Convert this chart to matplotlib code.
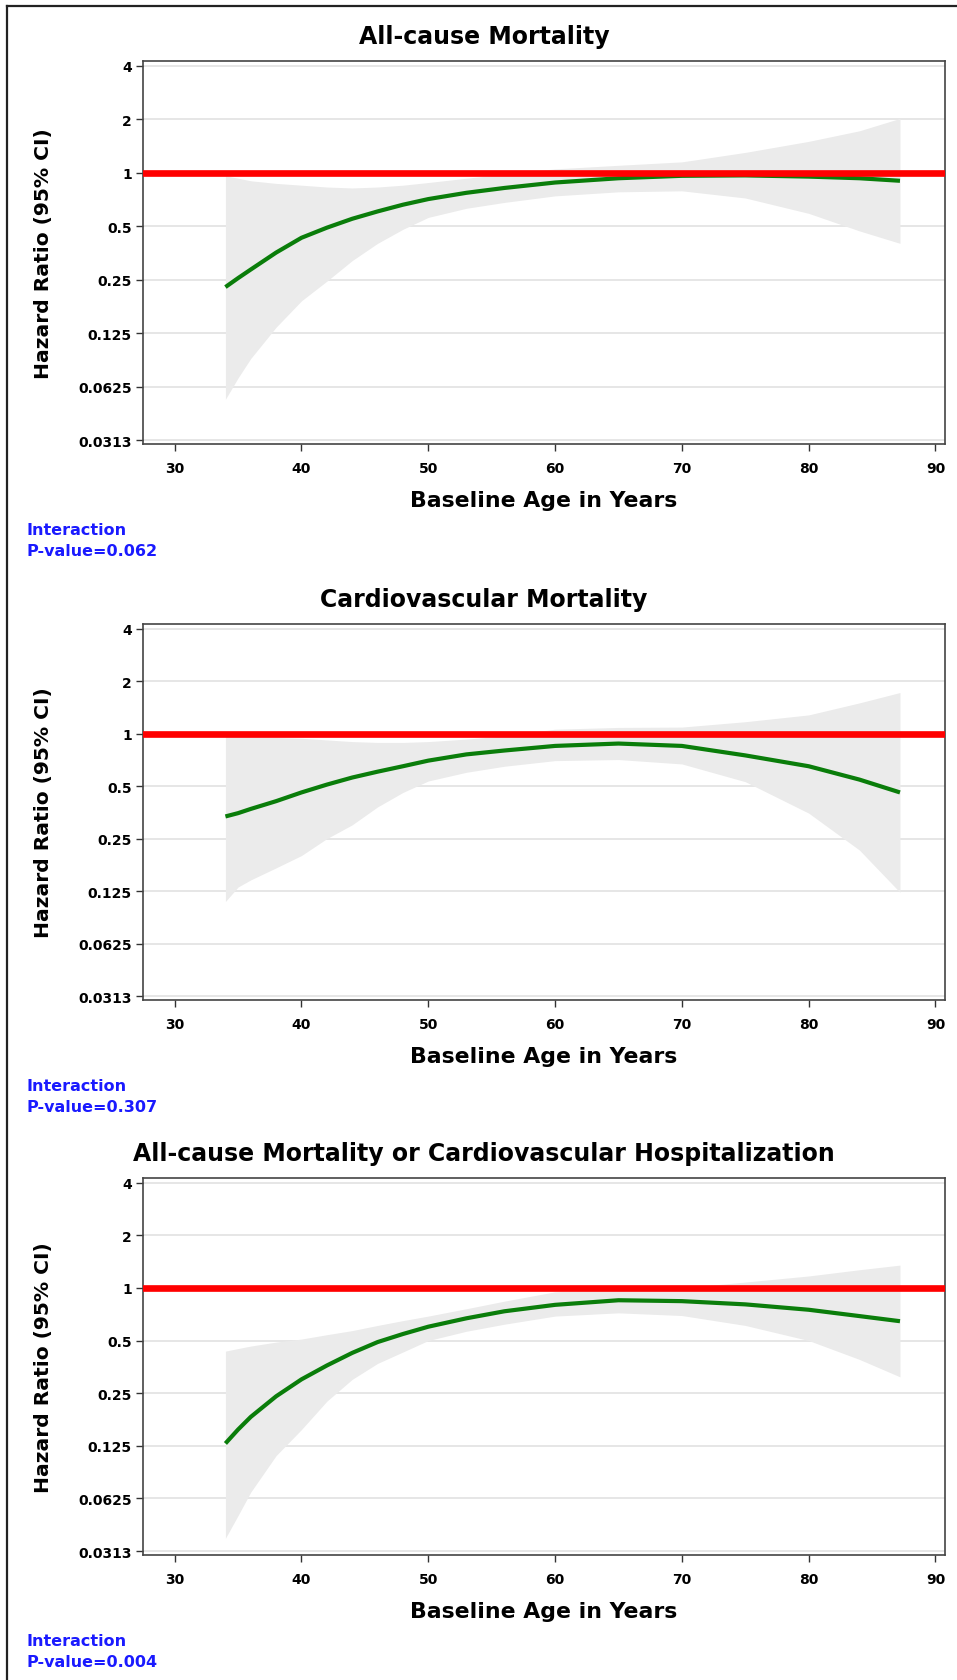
import matplotlib
matplotlib.use("Agg")
import matplotlib.pyplot as plt
from matplotlib.lines import Line2D

plt.rcParams.update({
    "font.family": "DejaVu Sans",
    "font.weight": "bold",
    "axes.labelweight": "bold",
})

# data
ages = [34, 35, 36, 38, 40, 42, 44, 46, 48, 50, 53, 56, 60, 65, 70, 75, 80, 84, 87.2]

titles = ["All-cause Mortality",
          "Cardiovascular Mortality",
          "All-cause Mortality or Cardiovascular Hospitalization"]
pvalues = ["0.062", "0.307", "0.004"]

hr_allcause = [0.227, 0.255, 0.285, 0.355, 0.43, 0.49, 0.55, 0.605, 0.66, 0.71,
               0.77, 0.82, 0.88, 0.93, 0.96, 0.965, 0.95, 0.93, 0.90]
hi_allcause = [0.96, 0.93, 0.90, 0.87, 0.85, 0.83, 0.82, 0.83, 0.85, 0.88,
               0.93, 0.98, 1.05, 1.10, 1.15, 1.30, 1.50, 1.72, 2.02]
lo_allcause = [0.053, 0.07, 0.09, 0.135, 0.19, 0.245, 0.32, 0.40, 0.48, 0.56,
               0.63, 0.68, 0.74, 0.78, 0.79, 0.72, 0.59, 0.47, 0.40]

hr_cv = [0.335, 0.35, 0.37, 0.41, 0.46, 0.51, 0.56, 0.605, 0.65, 0.70,
         0.76, 0.80, 0.85, 0.877, 0.85, 0.75, 0.65, 0.545, 0.46]
hi_cv = [0.97, 0.965, 0.96, 0.95, 0.94, 0.92, 0.90, 0.89, 0.89, 0.90,
         0.93, 0.97, 1.06, 1.085, 1.09, 1.17, 1.28, 1.50, 1.72]
lo_cv = [0.109, 0.132, 0.145, 0.17, 0.20, 0.25, 0.30, 0.38, 0.46, 0.535,
         0.60, 0.65, 0.70, 0.71, 0.67, 0.53, 0.35, 0.215, 0.123]

hr_comb = [0.129, 0.155, 0.183, 0.24, 0.30, 0.36, 0.425, 0.49, 0.545, 0.60,
           0.67, 0.735, 0.80, 0.85, 0.84, 0.805, 0.75, 0.69, 0.645]
hi_comb = [0.435, 0.45, 0.465, 0.49, 0.51, 0.54, 0.57, 0.61, 0.65, 0.69,
           0.76, 0.84, 0.95, 0.98, 1.0, 1.08, 1.17, 1.27, 1.35]
lo_comb = [0.037, 0.05, 0.068, 0.11, 0.155, 0.225, 0.30, 0.37, 0.43, 0.50,
           0.565, 0.62, 0.69, 0.72, 0.695, 0.61, 0.50, 0.39, 0.31]

hr = [hr_allcause, hr_cv, hr_comb]
hi = [hi_allcause, hi_cv, hi_comb]
lo = [lo_allcause, lo_cv, lo_comb]

yticks = [0.03125, 0.0625, 0.125, 0.25, 0.5, 1, 2, 4]
ytick_labels = ["0.0313", "0.0625", "0.125", "0.25", "0.5", "1", "2", "4"]
xticks = [30, 40, 50, 60, 70, 80, 90]

W, H = 957, 1681
fig = plt.figure(figsize=(W / 100, H / 100), dpi=100)

# pixel boxes (top, bottom) of the three panels
boxes = [(62, 445), (625, 1001), (1179, 1556)]
left_px, right_px = 143, 945

for i, (top, bot) in enumerate(boxes):
    ax = fig.add_axes([left_px / W, 1 - bot / H, (right_px - left_px) / W, (bot - top) / H])
    ax.set_yscale("log", base=2)
    ax.set_ylim(0.0297, 4.25)
    ax.set_xlim(27.5, 90.75)
    ax.fill_between(ages, lo[i], hi[i], color="#ebebeb", lw=0, zorder=1)
    ax.plot(ages, hr[i], color="#0a7d0a", lw=3.0, zorder=3, solid_capstyle="butt")
    ax.axhline(1, color="#ff0000", lw=4.8, zorder=4)
    ax.set_yticks(yticks)
    ax.set_yticklabels(ytick_labels)
    ax.yaxis.set_minor_locator(matplotlib.ticker.NullLocator())
    ax.set_xticks(xticks)
    ax.tick_params(labelsize=10, length=5, width=1, color="#333333", pad=3)
    ax.tick_params(axis="x", pad=7)
    ax.grid(axis="y", color="#e4e4e4", lw=1.3, zorder=0)
    ax.set_axisbelow(True)
    for s in ax.spines.values():
        s.set_color("#444444")
        s.set_linewidth(1.2)
    ax.set_ylabel("Hazard Ratio (95% CI)", fontsize=14.6, labelpad=18)
    ax.set_xlabel("Baseline Age in Years", fontsize=15.8, labelpad=11)
    fig.text(484 / W, 1 - (top - 25) / H, titles[i], ha="center", va="center",
             fontsize=17, fontweight="bold")
    fig.text(27 / W, 1 - (bot + 96) / H, "Interaction\nP-value=" + pvalues[i],
             ha="left", va="center", fontsize=11.5, fontweight="bold",
             color="#1a1aff", linespacing=1.5)

# frame lines at left and top of the image
fig.add_artist(Line2D([7 / W, 7 / W], [0, 1 - 7 / H], color="#222222", lw=1.6))
fig.add_artist(Line2D([7 / W, 1], [1 - 7 / H, 1 - 7 / H], color="#222222", lw=1.6))

fig.savefig("out.png", dpi=100)
